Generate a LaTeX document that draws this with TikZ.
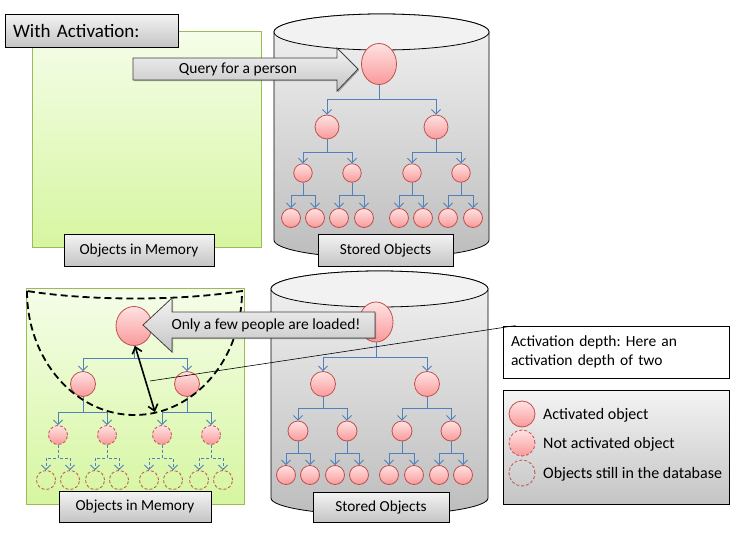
\documentclass[tikz,border=0pt]{standalone}
\usepackage{fontspec}
\setmainfont{Carlito}
\frenchspacing
\usetikzlibrary{shapes.geometric,arrows.meta,shadows}
\definecolor{grnT}{HTML}{F5FDE9}
\definecolor{grnB}{HTML}{D6F6A0}
\definecolor{grnD}{HTML}{9BBB59}
\definecolor{cylT}{HTML}{F2F2F2}
\definecolor{cylB}{HTML}{BDBDBD}
\definecolor{boxT}{HTML}{F4F4F4}
\definecolor{boxB}{HTML}{C4C4C4}
\definecolor{pinkT}{HTML}{FFE2E2}
\definecolor{pinkB}{HTML}{F99A9A}
\definecolor{pinkD}{HTML}{C0504D}
\definecolor{conB}{HTML}{4F81BD}
\tikzset{
  act/.style={circle, draw=pinkD, line width=0.8pt, top color=pinkT, bottom color=pinkB, inner sep=0pt},
  notact/.style={act, dash pattern=on 3pt off 2pt},
  dbo/.style={circle, draw=pinkD, line width=0.8pt, dash pattern=on 3pt off 2pt, inner sep=0pt},
  conn/.style={draw=conB, line width=0.9pt, -{Straight Barb[length=4.5pt,width=9pt]}},
  dconn/.style={conn, dash pattern=on 3pt off 2pt},
  lbl/.style={draw=black, line width=0.8pt, top color=boxT, bottom color=boxB, inner sep=0pt,
    font=\fontsize{15.3}{18}\selectfont,
    drop shadow={shadow xshift=1.2pt, shadow yshift=-1.2pt, opacity=0.3, fill=black}},
  blockarrow/.style={draw=black!75, line width=0.8pt, top color=boxT, bottom color=boxB},
  memarea/.style={draw=grnD, line width=0.8pt, top color=grnT, bottom color=grnB},
  cylbody/.style={draw=black, line width=0.8pt, top color=cylT, bottom color=cylB},
  txt/.style={font=\fontsize{15.5}{18}\selectfont, inner sep=0pt},
  legtxt/.style={font=\fontsize{16}{19}\selectfont, inner sep=0pt}
}
\begin{document}
\begin{tikzpicture}[x=1pt,y=-1pt]
\useasboundingbox (0,0) rectangle (737,557);

% ---------------- TOP PART ----------------
\path[memarea] (32,31) rectangle (261,247);

% top cylinder
\path[cylbody] (274,32) -- (274,240)
  arc[start angle=180, end angle=360, x radius=107.5pt, y radius=18pt]
  -- (489,32)
  arc[start angle=0, end angle=180, x radius=107.5pt, y radius=18pt] -- cycle;
\draw[line width=0.8pt, fill=cylT] (381.5,32) ellipse[x radius=107.5pt, y radius=18pt];

% top tree
\node[act, ellipse, minimum width=35pt, minimum height=41pt] (t0) at (379,64) {};
\foreach \x [count=\i] in {327,436}
  \node[act, minimum size=24pt] (t1-\i) at (\x,127) {};
\foreach \x [count=\i] in {303,352,412,461}
  \node[act, minimum size=18.5pt] (t2-\i) at (\x,173) {};
\foreach \x [count=\i] in {291,315,339,364,399,423,448,473}
  \node[act, minimum size=19pt] (t3-\i) at (\x,218) {};
\foreach \i in {1,2}
  \draw[conn] (t0.south) |- (t1-\i.north |- 0,99) -- (t1-\i.north);
\foreach \i in {1,...,4}{
  \pgfmathtruncatemacro\p{(\i+1)/2}
  \draw[conn] (t1-\p.south) |- (t2-\i.north |- 0,152) -- (t2-\i.north);
}
\foreach \i in {1,...,8}{
  \pgfmathtruncatemacro\p{(\i+1)/2}
  \draw[conn] (t2-\p.south) |- (t3-\i.north |- 0,195) -- (t3-\i.north);
}

\node[lbl, minimum width=173pt, minimum height=33pt, text width=157pt, inner xsep=8pt, align=left,
  font=\fontsize{19}{22}\selectfont] (title) at (91.5,30.5) {With Activation:};
\node[lbl, minimum width=150pt, minimum height=32pt] (mem1) at (139,250) {Objects in Memory};
\node[lbl, minimum width=135pt, minimum height=32pt] (sto1) at (385.5,250) {Stored Objects};

% query arrow
\path[blockarrow, drop shadow={shadow xshift=1.2pt, shadow yshift=-1.2pt, opacity=0.3, fill=black}]
  (133,58) -- (337,58) -- (337,48) -- (358,69) -- (337,91) -- (337,80) -- (133,80) -- cycle;
\node[txt] (query) at (238,69) {Query for a person};

% ---------------- BOTTOM PART ----------------
\path[memarea] (26,288) rectangle (244,504);

% bottom cylinder
\path[cylbody] (271,289) -- (271,498)
  arc[start angle=180, end angle=360, x radius=108.5pt, y radius=17pt]
  -- (488,289)
  arc[start angle=0, end angle=180, x radius=108.5pt, y radius=18pt] -- cycle;
\draw[line width=0.8pt, fill=cylT] (379.5,289) ellipse[x radius=108.5pt, y radius=18pt];

% callout line start
\coordinate (cl) at (150,381);

% bottom cylinder tree
\node[act, ellipse, minimum width=34pt, minimum height=40pt] (b0) at (376,322) {};
\foreach \x [count=\i] in {323,427}
  \node[act, minimum size=25pt] (b1-\i) at (\x,384) {};
\foreach \x [count=\i] in {298,347,402,451}
  \node[act, minimum size=20pt] (b2-\i) at (\x,431) {};
\foreach \x [count=\i] in {286,310,335,359,389,414,439,463}
  \node[act, minimum size=19pt] (b3-\i) at (\x,475) {};
\foreach \i in {1,2}
  \draw[conn] (b0.south) |- (b1-\i.north |- 0,357) -- (b1-\i.north);
\foreach \i in {1,...,4}{
  \pgfmathtruncatemacro\p{(\i+1)/2}
  \draw[conn] (b1-\p.south) |- (b2-\i.north |- 0,408) -- (b2-\i.north);
}
\foreach \i in {1,...,8}{
  \pgfmathtruncatemacro\p{(\i+1)/2}
  \draw[conn] (b2-\p.south) |- (b3-\i.north |- 0,453) -- (b3-\i.north);
}

% memory tree
\node[act, ellipse, minimum width=36pt, minimum height=39pt] (m0) at (134,326) {};
\foreach \x [count=\i] in {83,187}
  \node[act, minimum size=25pt] (m1-\i) at (\x,384) {};
\foreach \x [count=\i] in {58,107,162,211}
  \node[notact, minimum size=19pt] (m2-\i) at (\x,435) {};
\foreach \x [count=\i] in {46,70,95,119,149,173,199,223}
  \node[dbo, minimum size=19pt] (m3-\i) at (\x,480) {};
\foreach \i in {1,2}
  \draw[conn] (m0.south) |- (m1-\i.north |- 0,358) -- (m1-\i.north);
\foreach \i in {1,...,4}{
  \pgfmathtruncatemacro\p{(\i+1)/2}
  \draw[conn] (m1-\p.south) |- (m2-\i.north |- 0,412) -- (m2-\i.north);
}
\foreach \i in {1,...,8}{
  \pgfmathtruncatemacro\p{(\i+1)/2}
  \draw[dconn] (m2-\p.south) |- (m3-\i.north |- 0,458) -- (m3-\i.north);
}

% dashed activation region
\draw[line width=1.8pt, dash pattern=on 7pt off 4pt] (27,291)
  arc[start angle=180, end angle=360, x radius=107.5pt, y radius=124pt]
  .. controls (180,301) and (90,301) .. (27,291);

% depth double arrow
\coordinate (dEnd) at (155,412);
\draw[line width=1.6pt, {Straight Barb[length=6pt,width=10pt]}-{Straight Barb[length=6pt,width=10pt]}]
  ([xshift=1pt]m0.south) -- (dEnd);

% only a few arrow
\path[blockarrow, drop shadow={shadow xshift=1.2pt, shadow yshift=-1.2pt, opacity=0.3, fill=black}]
  (375,312) -- (172,312) -- (172,298) -- (143,325) -- (172,352) -- (172,338) -- (375,338) -- cycle;
\node[txt] (few) at (266,325) {Only a few people are loaded!};

\node[lbl, minimum width=152pt, minimum height=31pt] (mem2) at (135,506.5) {Objects in Memory};
\node[lbl, minimum width=136pt, minimum height=30pt] (sto2) at (381,507) {Stored Objects};

% callout box
\node[draw=black, line width=0.8pt, fill=white, minimum width=226pt, minimum height=52pt,
  text width=210pt, inner xsep=8pt, align=left, font=\fontsize{15.5}{19.5}\selectfont]
  (callout) at (616,352) {Activation depth: Here an\\activation depth of two};
\draw[line width=0.6pt] (cl) -- ([xshift=13pt]callout.north west);

% legend
\node[lbl, minimum width=226pt, minimum height=114pt] (legend) at (616,447) {};
\node[act, minimum width=25pt, minimum height=26pt] (lg1) at (522,414) {};
\node[notact, minimum width=25pt, minimum height=26pt] (lg2) at (522,443) {};
\node[dbo, minimum width=25pt, minimum height=26pt] (lg3) at (522,473) {};
\node[legtxt, anchor=west] (lt1) at (543,415) {Activated object};
\node[legtxt, anchor=west] (lt2) at (543,444) {Not activated object};
\node[legtxt, anchor=west] (lt3) at (543,474) {Objects still in the database};
\end{tikzpicture}
\end{document}
